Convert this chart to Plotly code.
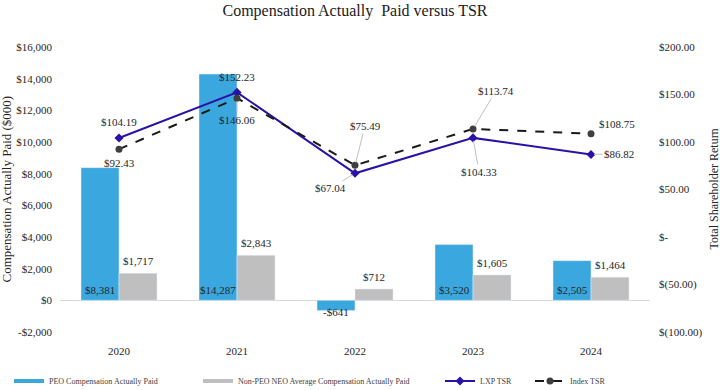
import plotly.graph_objects as go

# ---------------- data ----------------
years = ["2020", "2021", "2022", "2023", "2024"]
peo_cap = [8381, 14287, -641, 3520, 2505]
non_peo_cap = [1717, 2843, 712, 1605, 1464]
lxp_tsr = [104.19, 152.23, 67.04, 104.33, 86.82]
index_tsr = [92.43, 146.06, 75.49, 113.74, 108.75]

left_tickvals = [-2000, 0, 2000, 4000, 6000, 8000, 10000, 12000, 14000, 16000]
left_ticktext = ["-$2,000", "$0", "$2,000", "$4,000", "$6,000", "$8,000",
                 "$10,000", "$12,000", "$14,000", "$16,000"]
right_tickvals = [-100, -50, 0, 50, 100, 150, 200]
right_ticktext = ["$(100.00)", "$(50.00)", "$-", "$50.00", "$100.00", "$150.00", "$200.00"]

series_names = ["PEO Compensation Actually Paid",
                "Non-PEO NEO Average Compensation Actually Paid",
                "LXP TSR", "Index TSR"]

# ---------------- styles ----------------
FONT = "Liberation Serif"
TXT = "#262626"
BLUE = "#3BA7DF"
GRAY = "#BFBFBF"
LXP = "#2B12A6"
IDX = "#1A1A1A"

# label offsets (px) for the TSR labels: (dx, dy, leader line)
lxp_offsets = [(0, -16, False), (0, -15, False), (-25, 15, True), (6, 34, True), (28, -1, True)]
idx_offsets = [(0, 14, False), (0, 22, True), (10, -39, True), (23, -38, True), (26, -10, False)]


def money0(v):
    return ("-$" if v < 0 else "$") + f"{abs(v):,.0f}"


def money2(v):
    return f"${v:,.2f}"


def f(size, color=TXT):
    return dict(family=FONT, size=size, color=color)


fig = go.Figure()

fig.add_trace(go.Bar(x=years, y=peo_cap, name=series_names[0], marker_color=BLUE,
                     showlegend=False, yaxis="y"))
fig.add_trace(go.Bar(x=years, y=non_peo_cap, name=series_names[1], marker_color=GRAY,
                     showlegend=False, yaxis="y"))
fig.add_trace(go.Scatter(x=years, y=lxp_tsr, name=series_names[2], mode="lines+markers",
                         line=dict(color=LXP, width=2),
                         marker=dict(symbol="diamond", size=7, color=LXP),
                         yaxis="y2", legend="legend3"))
fig.add_trace(go.Scatter(x=years, y=index_tsr, name=series_names[3], mode="lines+markers",
                         line=dict(color=IDX, width=2, dash="dash"),
                         marker=dict(symbol="circle", size=7, color="#3F3F3F"),
                         yaxis="y2", legend="legend4"))

# legend-only entries for the bars (line-shaped keys)
fig.add_trace(go.Scatter(x=[None], y=[None], mode="lines", name=series_names[0],
                         line=dict(color=BLUE, width=4), legend="legend"))
fig.add_trace(go.Scatter(x=[None], y=[None], mode="lines", name=series_names[1],
                         line=dict(color=GRAY, width=4), legend="legend2"))

ann = []
for i, v in enumerate(peo_cap):
    if v >= 0:
        ann.append(dict(x=i, y=0, xref="x", yref="y", text=money0(v), showarrow=False,
                        xshift=-19, yshift=2, yanchor="bottom", font=f(11)))
    else:
        ann.append(dict(x=i, y=v, xref="x", yref="y", text=money0(v), showarrow=False,
                        xshift=-19, yshift=-2, yanchor="middle", font=f(11)))
for i, v in enumerate(non_peo_cap):
    ann.append(dict(x=i, y=v, xref="x", yref="y", text=money0(v), showarrow=False,
                    xshift=19, yshift=4, yanchor="bottom", font=f(11)))
for vals, offs in ((lxp_tsr, lxp_offsets), (index_tsr, idx_offsets)):
    for i, (v, (dx, dy, leader)) in enumerate(zip(vals, offs)):
        if leader:
            ann.append(dict(x=i, y=v, xref="x", yref="y2", text=money2(v), showarrow=True,
                            arrowhead=0, arrowwidth=1, arrowcolor="#BFBFBF", standoff=3,
                            ax=dx, ay=dy, font=f(11)))
        else:
            ann.append(dict(x=i, y=v, xref="x", yref="y2", text=money2(v), showarrow=False,
                            xshift=dx, yshift=-dy, font=f(11)))

# axis titles
ann.append(dict(x=-54 / 590, y=0.5, xref="paper", yref="paper", xanchor="center", yanchor="middle",
                text="Compensation Actually Paid ($000)", textangle=-90, showarrow=False,
                font=f(13)))
ann.append(dict(x=653 / 590, y=0.5, xref="paper", yref="paper", xanchor="center", yanchor="middle",
                text="Total Shareholder Return", textangle=-90, showarrow=False,
                font=f(12)))

legend_common = dict(orientation="h", yanchor="middle", y=-49 / 285, xanchor="left",
                     bgcolor="rgba(0,0,0,0)", font=f(8, "#404040"))

fig.update_layout(
    width=720, height=390,
    margin=dict(l=60, r=70, t=47, b=58, autoexpand=False),
    paper_bgcolor="white", plot_bgcolor="white",
    font=f(11),
    title=dict(text="Compensation Actually  Paid versus TSR", x=0.5, xref="paper",
               xanchor="center", y=1, yref="container", yanchor="top", pad=dict(t=5),
               font=f(16, "#1A1A1A")),
    barmode="group", bargap=0.356, bargroupgap=0,
    xaxis=dict(type="category", range=[-0.5, 4.5], showgrid=False, showline=False,
               ticks="", ticklabelstandoff=11, tickfont=f(11)),
    yaxis=dict(range=[-2000, 16000], tickvals=left_tickvals, ticktext=left_ticktext,
               showgrid=False, zeroline=True, zerolinecolor="#D9D9D9", zerolinewidth=1,
               showline=False, ticks="", ticklabelstandoff=7, tickfont=f(11)),
    yaxis2=dict(range=[-100, 200], tickvals=right_tickvals, ticktext=right_ticktext,
                overlaying="y", side="right", showgrid=False, zeroline=False, showline=False,
                ticks="", ticklabelstandoff=8, tickfont=f(11)),
    annotations=ann,
    legend=dict(x=(9 - 60) / 590, **legend_common),
    legend2=dict(x=(198 - 60) / 590, **legend_common),
    legend3=dict(x=(440 - 60) / 590, **legend_common),
    legend4=dict(x=(530 - 60) / 590, **legend_common),
)

# remove the page's default body margin so the figure sits at the window's top-left corner
fig.write_html("out.html", config={"displayModeBar": False},
               post_script="document.body.style.margin='0px';")
